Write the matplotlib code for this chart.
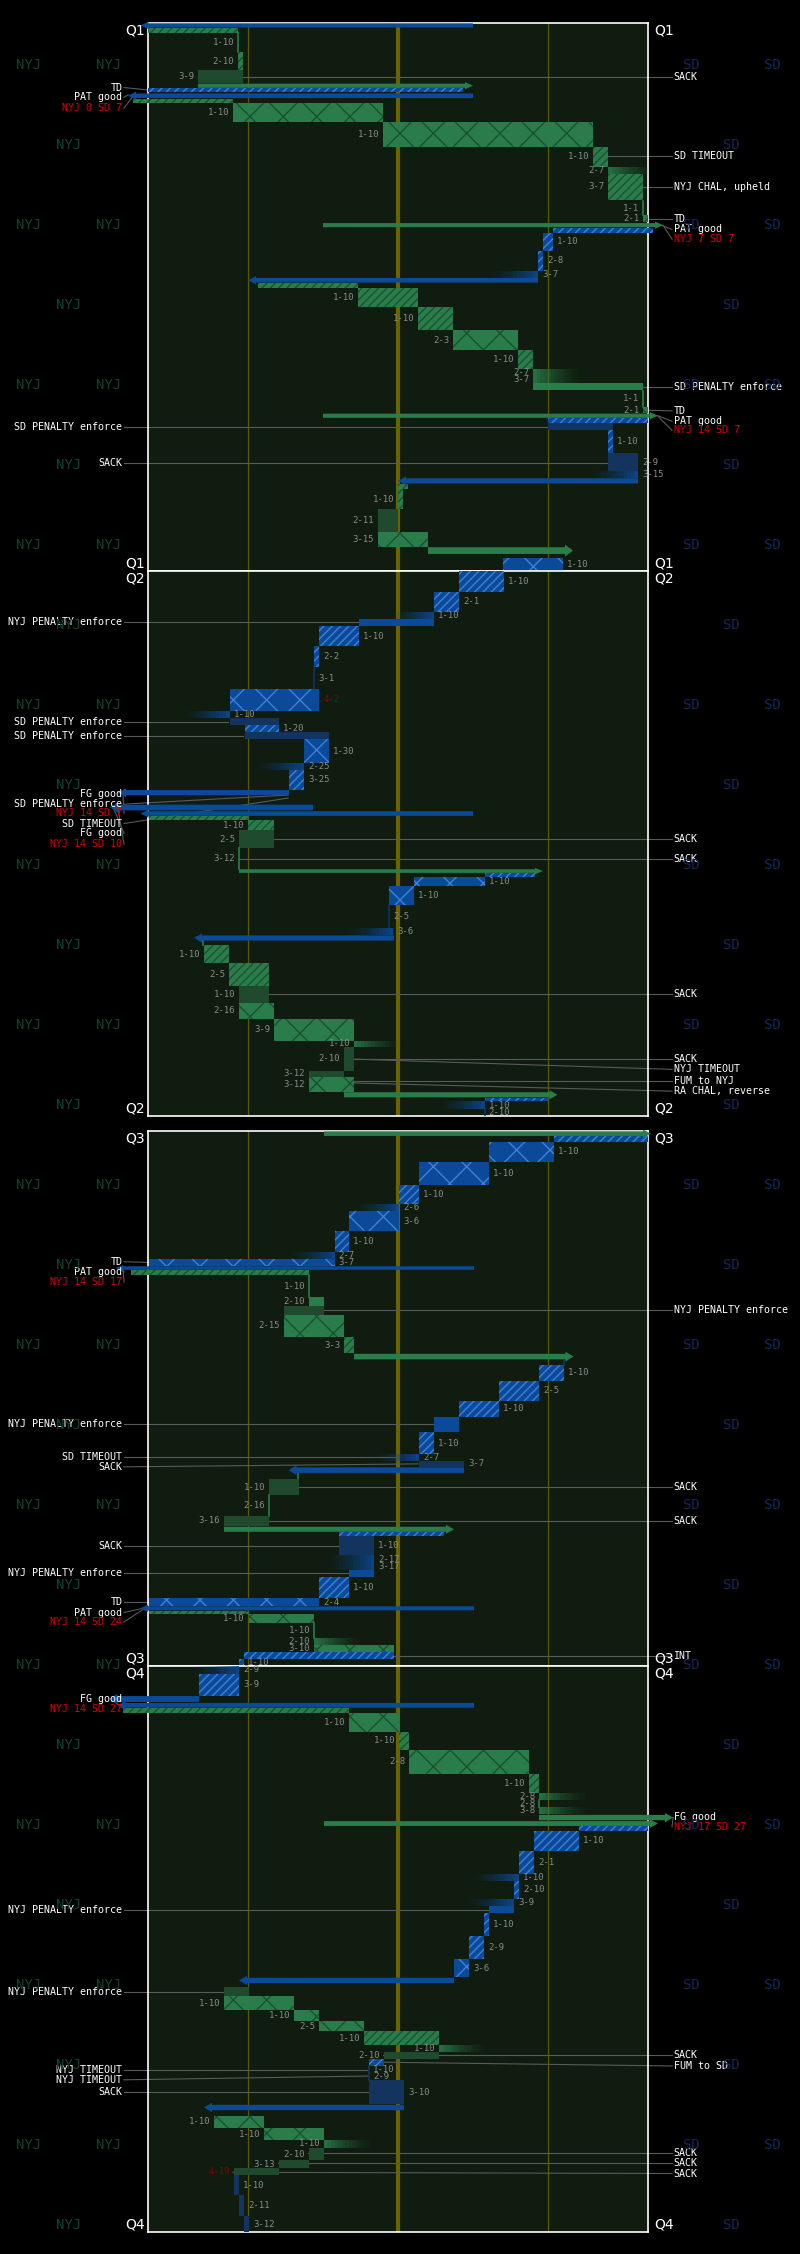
import matplotlib
matplotlib.use("Agg")
import matplotlib.pyplot as plt
from matplotlib.patches import Rectangle, FancyArrow

plt.rcParams['hatch.linewidth'] = 1.0

# ---------------- DATA ----------------
# plays: (clock_start_s, clock_end_s, team, kind, from_yard, to_yard, down)
q1_plays = [
    (0, 8, 'S', 'kick', 65, -1.5, ''), (8, 16, 'N', 'ret', 0, 18, ''),
    (16, 47, 'N', 'none', 18, 18, '1-10'), (47, 78, 'N', 'pass', 18, 19, '2-10'),
    (78, 99, 'N', 'loss', 19, 10, '3-9'), (99, 107, 'N', 'kick', 10, 65, ''),
    (107, 114, 'S', 'ret', 63, 0, ''), (115, 124, 'S', 'kick', 65, -4, ''),
    (124, 132, 'N', 'ret', -3, 17, ''), (132, 162, 'N', 'run', 17, 47, '1-10'),
    (162, 203, 'N', 'run', 47, 89, '1-10'), (203, 237, 'N', 'pass', 89, 92, '1-10'),
    (237, 248, 'N', 'inc', 92, 102, '2-7'), (248, 290, 'N', 'pass', 92, 99, '3-7'),
    (293, 315, 'N', 'none', 99, 99, '1-1'), (316, 327, 'N', 'run', 99, 100, '2-1'),
    (328, 336, 'N', 'kick', 35, 103, ''), (337, 345, 'S', 'ret', 101, 81, ''),
    (345, 374, 'S', 'pass', 81, 79, '1-10'), (374, 407, 'S', 'pass', 79, 78, '2-8'),
    (407, 419, 'S', 'inc', 78, 68, '3-7'), (418, 427, 'S', 'kick', 78, 20, ''),
    (427, 435, 'N', 'ret', 22, 42, ''), (435, 467, 'N', 'pass', 42, 54, '1-10'),
    (467, 505, 'N', 'pass', 54, 61, '1-10'), (505, 537, 'N', 'run', 61, 74, '2-3'),
    (537, 568, 'N', 'pass', 74, 77, '1-10'), (568, 579, 'N', 'inc', 77, 87, '2-7'),
    (579, 591, 'N', 'inc', 77, 87, '3-7'), (591, 602, 'N', 'pen', 77, 99, ''),
    (604, 630, 'N', 'none', 99, 99, '1-1'), (631, 641, 'N', 'run', 99, 100, '2-1'),
    (641, 649, 'N', 'kick', 35, 102, ''), (649, 657, 'S', 'ret', 100, 80, ''),
    (657, 669, 'S', 'loss', 80, 93, ''), (669, 707, 'S', 'pass', 93, 92, '1-10'),
    (707, 736, 'S', 'loss', 92, 98, '2-9'), (736, 747, 'S', 'inc', 98, 88, '3-15'),
    (747, 757, 'S', 'kick', 98, 50, ''), (757, 766, 'N', 'ret', 50, 52, ''),
    (766, 798, 'N', 'pass', 50, 51, '1-10'), (798, 836, 'N', 'loss', 50, 46, '2-11'),
    (836, 860, 'N', 'run', 46, 56, '3-15'), (860, 873, 'N', 'kick', 56, 85, ''),
    (879, 900, 'S', 'run', 83, 71, '1-10'),
]
q2_plays = [
    (0, 34, 'S', 'pass', 71.2, 62.2, '1-10'), (34, 68, 'S', 'pass', 62.2, 57.2, '2-1'),
    (68, 80, 'S', 'inc', 57.2, 47.8, '1-10'), (80, 91, 'S', 'pen', 57.2, 42.2, ''),
    (91, 124, 'S', 'pass', 42.2, 34.2, '1-10'), (124, 159, 'S', 'pass', 34.2, 33.2, '2-2'),
    (159, 195, 'S', 'none', 33.2, 33.2, '3-1'), (195, 231, 'S', 'run', 34.2, 16.3, '4-2'),
    (231, 243, 'S', 'inc', 16.3, 6.5, '1-10'), (243, 254, 'S', 'loss', 16.3, 26.1, ''),
    (254, 266, 'S', 'pass', 26.1, 19.3, '1-20'), (266, 278, 'S', 'loss', 19.3, 36.2, ''),
    (278, 317, 'S', 'run', 36.2, 31.2, '1-30'), (317, 329, 'S', 'inc', 31.2, 21.4, '2-25'),
    (329, 361, 'S', 'pass', 31.2, 28.2, '3-25'), (361, 371, 'S', 'kick', 28.2, -6, ''),
    (385, 396, 'S', 'kick', 33, -7.6, ''), (396, 405, 'S', 'kick', 65, -1.5, ''),
    (405, 412, 'N', 'ret', 0.2, 20, ''), (412, 428, 'N', 'pass', 20, 25.1, '1-10'),
    (428, 458, 'N', 'loss', 25.1, 18.2, '2-5'), (458, 492, 'N', 'none', 18.2, 18.2, '3-12'),
    (492, 499, 'N', 'kick', 18.2, 79, ''), (499, 505, 'S', 'ret', 77.3, 67.3, ''),
    (505, 520, 'S', 'run', 67.3, 53.2, '1-10'), (520, 552, 'S', 'run', 53.2, 48.2, '1-10'),
    (552, 589, 'S', 'none', 48.2, 48.2, '2-5'), (589, 601, 'S', 'inc', 49, 39.4, '3-6'),
    (601, 611, 'S', 'kick', 49.2, 9.2, ''), (611, 618, 'N', 'none', 11, 11, ''),
    (618, 648, 'N', 'pass', 11.2, 16.2, '1-10'), (648, 685, 'N', 'pass', 16.2, 24.2, '2-5'),
    (685, 714, 'N', 'loss', 24.2, 18.2, '1-10'), (714, 739, 'N', 'run', 18.2, 25.2, '2-16'),
    (739, 776, 'N', 'run', 25.2, 41.2, '3-9'), (776, 786, 'N', 'inc', 41.2, 50.9, '1-10'),
    (786, 825, 'N', 'loss', 41.2, 39.2, '2-10'), (825, 836, 'N', 'loss', 39.2, 32.2, '3-12'),
    (836, 860, 'N', 'run', 32.2, 41.2, '3-12'), (860, 870, 'N', 'kick', 39.2, 81.9, ''),
    (870, 876, 'S', 'ret', 80, 67.3, ''), (876, 889, 'S', 'inc', 67.3, 57.7, '1-10'),
    (889, 900, 'S', 'none', 67.3, 67.3, '2-10'),
]
q3_plays = [
    (0, 9, 'N', 'kick', 35.2, 100.6, ''), (9, 18, 'S', 'ret', 100, 81.2, ''),
    (18, 52, 'S', 'run', 81.2, 68.2, '1-10'), (52, 90, 'S', 'run', 68.2, 54.2, '1-10'),
    (90, 123, 'S', 'pass', 54.2, 50.2, '1-10'), (123, 135, 'S', 'inc', 50.2, 41, '2-6'),
    (135, 168, 'S', 'run', 50.2, 40.2, '3-6'), (168, 203, 'S', 'pass', 40.2, 37.3, '1-10'),
    (203, 215, 'S', 'inc', 37.3, 28, '2-7'), (215, 227, 'S', 'run', 37.3, 0.2, '3-7'),
    (227, 234, 'S', 'kick', 65.2, -6.5, ''), (234, 243, 'N', 'ret', -3.5, 32.2, ''),
    (243, 279, 'N', 'none', 32.2, 32.2, '1-10'), (279, 294, 'N', 'run', 32.2, 35.2, '2-10'),
    (294, 309, 'N', 'loss', 35.2, 27.2, ''), (309, 346, 'N', 'run', 27.2, 39.2, '2-15'),
    (346, 374, 'N', 'pass', 39.2, 41.2, '3-3'), (374, 385, 'N', 'kick', 41.2, 85.1, ''),
    (385, 393, 'S', 'none', 83.2, 83.2, ''), (393, 420, 'S', 'pass', 83.2, 78.2, '1-10'),
    (420, 454, 'S', 'pass', 78.2, 70.2, '2-5'), (454, 481, 'S', 'pass', 70.2, 62.2, '1-10'),
    (481, 507, 'S', 'pen', 62.2, 57.2, ''), (507, 543, 'S', 'pass', 57.2, 54.2, '1-10'),
    (543, 555, 'S', 'inc', 54.2, 45, '2-7'), (555, 565, 'S', 'loss', 54.2, 63.2, '3-7'),
    (565, 576, 'S', 'kick', 63.2, 28.1, ''), (576, 585, 'N', 'none', 30, 30, ''),
    (585, 613, 'N', 'loss', 30.2, 24.2, '1-10'), (613, 647, 'N', 'none', 24.2, 24.2, '2-16'),
    (647, 665, 'N', 'loss', 24.2, 15.2, '3-16'), (665, 675, 'N', 'kick', 15.2, 61.2, ''),
    (675, 682, 'S', 'ret', 59.1, 38.2, ''), (682, 714, 'S', 'loss', 38.2, 45.2, '1-10'),
    (714, 726, 'S', 'inc', 45.2, 35.5, '2-17'), (726, 738, 'S', 'inc', 45.2, 35.5, '3-17'),
    (738, 750, 'S', 'pen', 45.2, 40.2, ''), (750, 786, 'S', 'pass', 40.2, 34.2, '1-10'),
    (786, 799, 'S', 'run', 34.2, 0.2, '2-4'), (799, 807, 'S', 'kick', 65.2, -1.6, ''),
    (807, 813, 'N', 'ret', 0.2, 20.1, ''), (813, 828, 'N', 'run', 20.1, 33.2, '1-10'),
    (828, 853, 'N', 'none', 33.2, 33.2, '1-10'), (853, 865, 'N', 'inc', 33.2, 43, '2-10'),
    (865, 877, 'N', 'run', 33.2, 49.2, '3-10'), (877, 888, 'S', 'ret', 49.2, 19.2, ''),
    (888, 900, 'S', 'pass', 19.2, 18.2, '1-10'),
]
q4_plays = [
    (0, 12, 'S', 'inc', 18.2, 8.8, '2-9'), (12, 47, 'S', 'pass', 18.2, 10.2, '3-9'),
    (47, 58, 'S', 'kick', 10.2, -7.7, ''), (58, 67, 'S', 'kick', 65.2, -6.1, ''),
    (67, 74, 'N', 'ret', -5, 40.2, ''), (74, 105, 'N', 'run', 40.2, 50.2, '1-10'),
    (105, 133, 'N', 'pass', 50.2, 52.2, '1-10'), (133, 171, 'N', 'run', 52.2, 76.2, '2-8'),
    (171, 202, 'N', 'pass', 76.2, 78.2, '1-10'), (202, 213, 'N', 'inc', 78.2, 88, '2-8'),
    (213, 224, 'N', 'none', 78.2, 78.2, '2-8'), (224, 235, 'N', 'inc', 78.2, 88, '3-8'),
    (236, 246, 'N', 'kick', 78.2, 105, ''), (246, 255, 'N', 'kick', 35.2, 102, ''),
    (255, 262, 'S', 'ret', 100, 86.2, ''), (262, 294, 'S', 'pass', 86.2, 77.2, '1-10'),
    (294, 331, 'S', 'pass', 77.2, 74.2, '2-1'), (331, 342, 'S', 'inc', 74.2, 64.3, '1-10'),
    (342, 370, 'S', 'pass', 74.2, 73.2, '2-10'), (370, 382, 'S', 'inc', 73.2, 63.5, '3-9'),
    (382, 392, 'S', 'pen', 73.2, 68.2, ''), (392, 429, 'S', 'pass', 68.2, 67.2, '1-10'),
    (429, 466, 'S', 'pass', 67.2, 64.2, '2-9'), (466, 495, 'S', 'run', 64.2, 61.2, '3-6'),
    (495, 505, 'S', 'kick', 61.2, 18.2, ''), (510, 525, 'N', 'loss', 20.1, 15.2, ''),
    (525, 547, 'N', 'run', 15.2, 29.2, '1-10'), (547, 564, 'N', 'run', 29.2, 34.2, '1-10'),
    (564, 581, 'N', 'run', 34.2, 43.2, '2-5'), (581, 603, 'N', 'pass', 43.2, 58.2, '1-10'),
    (603, 614, 'N', 'inc', 58.2, 68, '1-10'), (614, 625, 'N', 'loss', 58.2, 47.2, '2-10'),
    (625, 636, 'S', 'ret', 47.2, 44.2, ''), (636, 647, 'S', 'none', 44.2, 44.2, '1-10'),
    (647, 658, 'S', 'none', 44.2, 44.2, '2-9'), (658, 697, 'S', 'loss', 44.2, 51.2, '3-10'),
    (697, 707, 'S', 'kick', 51.2, 11.2, ''), (715, 735, 'N', 'run', 13.2, 23.2, '1-10'),
    (735, 754, 'N', 'run', 23.2, 35.2, '1-10'), (754, 766, 'N', 'inc', 35.2, 45, '1-10'),
    (766, 786, 'N', 'loss', 35.2, 32.2, '2-10'), (786, 799, 'N', 'loss', 32.2, 26.2, '3-13'),
    (799, 810, 'N', 'loss', 26.2, 17.2, '4-19'), (810, 841, 'S', 'loss', 17.2, 18.2, '1-10'),
    (841, 875, 'S', 'loss', 18.2, 19.2, '2-11'), (875, 900, 'S', 'loss', 19.2, 20.2, '3-12'),
]
# notes: (label_clock, target_clock, target_yard, side, text, is_score)
q1_notes = [
    (88, 88, 19, 'R', 'SACK', 0), (106, 110, 0, 'L', 'TD', 0), (122, 118, -4, 'L', 'PAT good', 0),
    (140, 120, -3, 'L', 'NYJ 0 SD 7', 1), (219, 219, 92, 'R', 'SD TIMEOUT', 0),
    (270, 270, 99, 'R', 'NYJ CHAL, upheld', 0), (322, 322, 100, 'R', 'TD', 0),
    (339, 330, 102, 'R', 'PAT good', 0), (355, 332, 103, 'R', 'NYJ 7 SD 7', 1),
    (597, 597, 99, 'R', 'SD PENALTY enforce', 0), (637, 636, 100, 'R', 'TD', 0),
    (654, 645, 102, 'R', 'PAT good', 0), (669, 646, 102, 'R', 'NYJ 14 SD 7', 1),
    (663, 663, 80, 'L', 'SD PENALTY enforce', 0), (722, 722, 92, 'L', 'SACK', 0),
]
q2_notes = [
    (85, 85, 42, 'L', 'NYJ PENALTY enforce', 0), (249, 249, 16, 'L', 'SD PENALTY enforce', 0),
    (272, 272, 19, 'L', 'SD PENALTY enforce', 0), (368, 366, -6, 'L', 'FG good', 0),
    (385, 370, 28, 'L', 'SD PENALTY enforce', 0), (400, 367, -5, 'L', 'NYJ 14 SD 7', 1),
    (417, 375, 28, 'L', 'SD TIMEOUT', 0), (433, 390, -7, 'L', 'FG good', 0),
    (451, 392, -6, 'L', 'NYJ 14 SD 10', 1), (443, 443, 25, 'R', 'SACK', 0),
    (475, 475, 18, 'R', 'SACK', 0), (699, 699, 24, 'R', 'SACK', 0),
    (806, 806, 41, 'R', 'SACK', 0), (823, 806, 41, 'R', 'NYJ TIMEOUT', 0),
    (842, 842, 39, 'R', 'FUM to NYJ', 0), (859, 845, 39, 'R', 'RA CHAL, reverse', 0),
]
q3_notes = [
    (220, 221, 0, 'L', 'TD', 0), (237, 230, -6, 'L', 'PAT good', 0), (254, 232, -5, 'L', 'NYJ 14 SD 17', 1),
    (301, 301, 35, 'R', 'NYJ PENALTY enforce', 0), (493, 493, 62, 'L', 'NYJ PENALTY enforce', 0),
    (549, 549, 50, 'L', 'SD TIMEOUT', 0), (565, 560, 54, 'L', 'SACK', 0),
    (599, 599, 30, 'R', 'SACK', 0), (656, 656, 24, 'R', 'SACK', 0),
    (698, 698, 38, 'L', 'SACK', 0), (744, 744, 40, 'L', 'NYJ PENALTY enforce', 0),
    (792, 792, 0, 'L', 'TD', 0), (810, 803, -1, 'L', 'PAT good', 0), (826, 805, -1, 'L', 'NYJ 14 SD 24', 1),
    (883, 883, 49, 'R', 'INT', 0),
]
q4_notes = [
    (53, 53, -7, 'L', 'FG good', 0), (68, 55, -7, 'L', 'NYJ 14 SD 27', 1),
    (240, 240, 105, 'R', 'FG good', 0), (256, 242, 105, 'R', 'NYJ 17 SD 27', 1),
    (388, 388, 68, 'L', 'NYJ PENALTY enforce', 0), (518, 518, 15, 'L', 'NYJ PENALTY enforce', 0),
    (619, 619, 47, 'R', 'SACK', 0), (636, 630, 47, 'R', 'FUM to SD', 0),
    (643, 643, 44, 'L', 'NYJ TIMEOUT', 0), (658, 652, 44, 'L', 'NYJ TIMEOUT', 0),
    (678, 678, 44, 'L', 'SACK', 0), (775, 775, 32, 'R', 'SACK', 0),
    (791, 791, 26, 'R', 'SACK', 0), (807, 805, 17, 'R', 'SACK', 0),
]
quarters = ['Q1', 'Q2', 'Q3', 'Q4']
quarter_plays = [q1_plays, q2_plays, q3_plays, q4_plays]
quarter_notes = [q1_notes, q2_notes, q3_notes, q4_notes]

# ---------------- STYLE ----------------
W, H = 800, 2254
panel_px = [(23, 571), (571, 1116), (1131, 1666), (1666, 2232)]
FIELD = '#0f1c0f'
COL = {'N': '#2a7d4b', 'S': '#0b4a99'}
HCOL = {'N': '#1a5230', 'S': '#3f80d8'}
DARK = {'N': '#1f4a2e', 'S': '#12345e'}
MONO = 'DejaVu Sans Mono'

fig = plt.figure(figsize=(W / 100, H / 100), dpi=100)
fig.patch.set_facecolor('black')

# background team watermarks
k = 0
y = 65
while y < H - 20:
    if k % 2 == 0:
        for xx in (29, 109):
            fig.text(xx / W, 1 - y / H, 'NYJ', color='#17402a', fontsize=10, family=MONO, ha='center', va='center')
        for xx in (691, 772):
            fig.text(xx / W, 1 - y / H, 'SD', color='#0f2b55', fontsize=10, family=MONO, ha='center', va='center')
    else:
        fig.text(69 / W, 1 - y / H, 'NYJ', color='#17402a', fontsize=10, family=MONO, ha='center', va='center')
        fig.text(731 / W, 1 - y / H, 'SD', color='#0f2b55', fontsize=10, family=MONO, ha='center', va='center')
    y += 80
    k += 1


def draw_play(ax, p):
    t0, t1, team, kind, a, b, down = p
    h = t1 - t0
    col = COL[team]
    lo, hi = min(a, b), max(a, b)
    if kind == 'kick':
        ax.add_patch(FancyArrow(a, (t0 + t1) / 2, b - a, 0, width=h * 0.85, head_width=h * 1.5,
                                head_length=1.6, length_includes_head=True, color=col, lw=0,
                                clip_on=False, zorder=4))
    elif kind == 'none':
        ax.plot([a, a], [t0, t1], color=col if team == 'N' else DARK[team], lw=1.2, zorder=3)
    elif kind == 'inc':
        n = 14
        step = (b - a) / n
        for i in range(n):
            ax.add_patch(Rectangle((a + i * step, t0), step, h, facecolor=col,
                                   alpha=0.85 * (1 - i / n) ** 1.5, lw=0, zorder=3))
    elif kind == 'loss':
        ax.add_patch(Rectangle((lo, t0), hi - lo, h, facecolor=DARK[team], lw=0, zorder=3))
    elif kind == 'pen':
        ax.add_patch(Rectangle((lo, t0), hi - lo, h, facecolor=col, lw=0, zorder=3))
    else:
        hatch = 'x' if kind == 'run' else '////'
        ax.add_patch(Rectangle((lo, t0), max(hi - lo, 0.3), h, facecolor=col, edgecolor=HCOL[team],
                               hatch=hatch, lw=0, zorder=3, clip_on=False))
    if down:
        c = '#8b0000' if down.startswith('4') else '#8a8a8a'
        if team == 'N':
            ax.text(lo - 0.8, (t0 + t1) / 2, down, ha='right', va='center', fontsize=6.5,
                    family=MONO, color=c, zorder=6)
        else:
            ax.text(hi + 0.8, (t0 + t1) / 2, down, ha='left', va='center', fontsize=6.5,
                    family=MONO, color=c, zorder=6)


for qi, (top, bot) in enumerate(panel_px):
    ax = fig.add_axes([148 / W, 1 - bot / H, 500 / W, (bot - top) / H])
    ax.set_facecolor(FIELD)
    ax.set_xlim(0, 100)
    ax.set_ylim(900, 0)
    ax.set_xticks([])
    ax.set_yticks([])
    for s in ax.spines.values():
        s.set_color('white')
        s.set_linewidth(1.2)
    ax.axvline(20, color='#5a5800', lw=0.9, zorder=1)
    ax.axvline(80, color='#5a5800', lw=0.9, zorder=1)
    ax.axvline(50, color='#6b6200', lw=3, zorder=1)
    for p in quarter_plays[qi]:
        draw_play(ax, p)
    for lt, tt, ty, side, txt, score in quarter_notes[qi]:
        lx = 104.8 if side == 'R' else -4.8
        ax.plot([ty, lx], [tt, lt], color='#5a5a5a', lw=0.8, clip_on=False, zorder=2)
        ax.text(lx + (0.3 if side == 'R' else -0.3), lt, txt, ha='left' if side == 'R' else 'right',
                va='center', fontsize=7.2, family=MONO, color='#e00000' if score else 'white',
                clip_on=False, zorder=7)
    q = quarters[qi]
    for yy, va in ((12, 'center'), (888, 'center')):
        ax.text(-0.6, yy, q, ha='right', va=va, color='white', fontsize=10, clip_on=False)
        ax.text(101.3, yy, q, ha='left', va=va, color='white', fontsize=10, clip_on=False)

fig.savefig('out.png', dpi=100, facecolor='black')
